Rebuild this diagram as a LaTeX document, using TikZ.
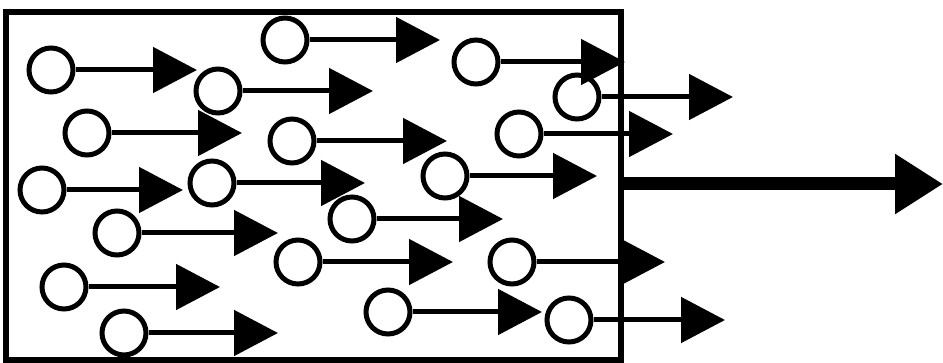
\documentclass[tikz,border=0pt]{standalone}
\usetikzlibrary{arrows.meta}
\begin{document}
\begin{tikzpicture}[x=1pt,y=-1pt,
  particle/.style={circle,draw,line width=5pt,minimum size=44pt,inner sep=0pt},
  flow/.style={line width=5pt,-{Triangle[length=44pt,width=45pt]}},
  bigflow/.style={line width=13pt,-{Triangle[length=48pt,width=57pt]}},
  frame/.style={draw,line width=6pt,minimum width=615pt,minimum height=348pt,inner sep=0pt}]
\useasboundingbox (0,0) rectangle (943,363);
% the container
\node[frame] (box) at (313.5,186) {};
% particles, each moving to the right
\foreach \n/\x/\y/\t in {
  A/51/70/197, B/218/91/373, C/285/40/440, D/87/133/242, E/292/141/447,
  F/476/62/625, G/577/97/733, H/519/134/673, I/445/176/597, J/42/190/183,
  K/212/183/365, L/117/233/278, M/298/262/453, N/64/287/220, O/124/333/278,
  P/352/219/503, Q/512/262/665, R/388/312/542, S/569/320/725} {
  \node[particle] (\n) at (\x,\y) {};
  \coordinate (\n tip) at (\t,\y);
  \draw[flow] (\n) -- (\n tip);
}
% net flow out of the container
\coordinate (out) at (943,184);
\draw[bigflow] (box.east |- out) -- (out);
\end{tikzpicture}
\end{document}
